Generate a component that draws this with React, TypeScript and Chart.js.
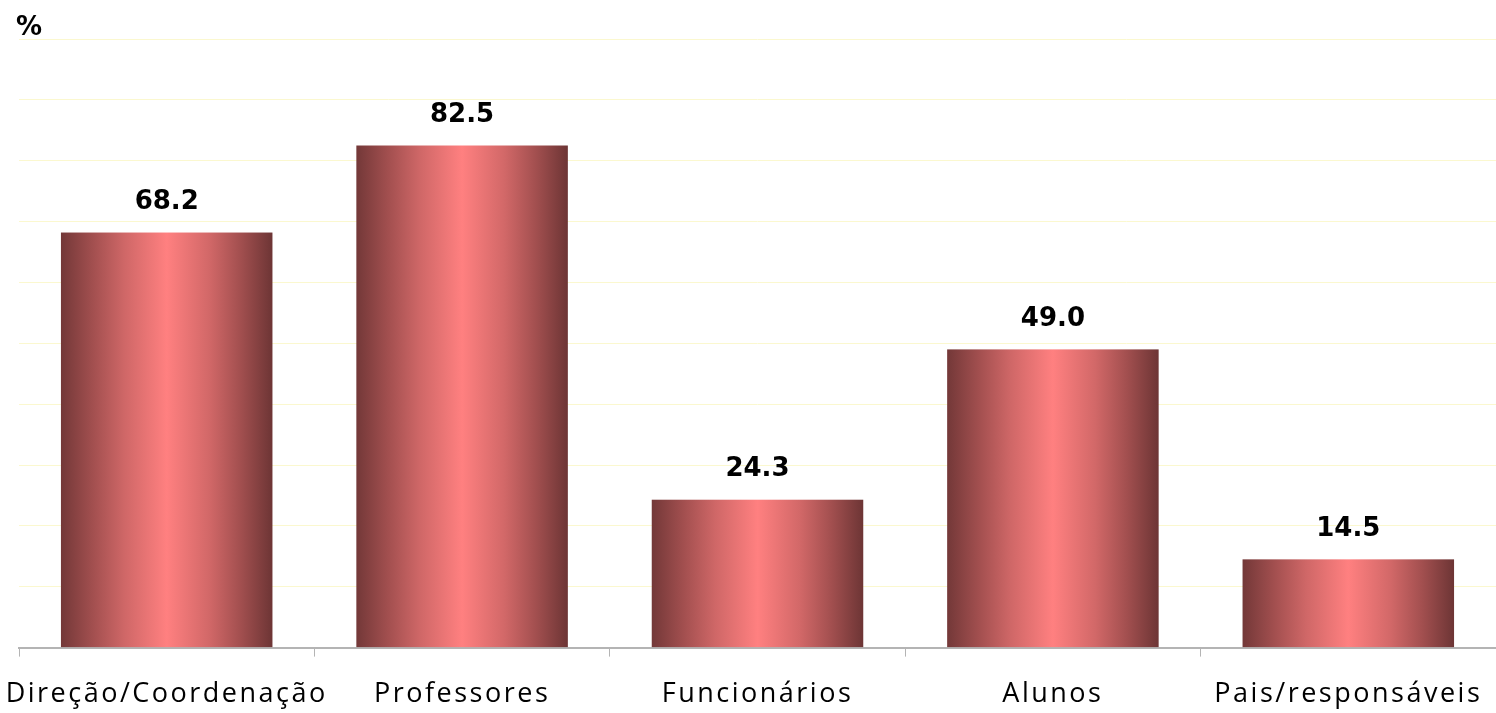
import React, { useEffect, useRef } from "react";
import { Chart, registerables } from "chart.js";

Chart.register(...registerables);

const categories = ["Direção/Coordenação", "Professores", "Funcionários", "Alunos", "Pais/responsáveis"];
const values = [68.2, 82.5, 24.3, 49.0, 14.5];
const yMax = 100;
const yStep = 10;
const unitLabel = "%";

const gradientPlugin = {
  id: "gradBars",
  beforeDraw(chart: any) {
    chart.ctx.letterSpacing = "2.5px";
  },
  beforeDatasetsDraw(chart: any) {
    chart.ctx.letterSpacing = "0px";
  },
  afterDatasetsDraw(chart: any) {
    const ctx = chart.ctx;
    const meta = chart.getDatasetMeta(0);
    ctx.save();
    ctx.letterSpacing = "0px";
    meta.data.forEach((el: any) => {
      const { x, y, base, width } = el.getProps(["x", "y", "base", "width"], true);
      const l = x - width / 2;
      const g = ctx.createLinearGradient(l, 0, l + width, 0);
      g.addColorStop(0, "#733838");
      g.addColorStop(0.15, "#a24f4f");
      g.addColorStop(0.3, "#cf6767");
      g.addColorStop(0.5, "#ff8080");
      g.addColorStop(0.7, "#d26868");
      g.addColorStop(0.85, "#a24f4f");
      g.addColorStop(1, "#6d3535");
      ctx.fillStyle = g;
      ctx.fillRect(l, y, width, base - y);
    });
    ctx.fillStyle = "#000";
    ctx.font = "bold 26px 'DejaVu Sans'";
    ctx.textAlign = "center";
    ctx.textBaseline = "middle";
    meta.data.forEach((el: any, i: number) => {
      const { x, y } = el.getProps(["x", "y"], true);
      ctx.fillText(values[i].toFixed(1), x, y - 30);
    });
    ctx.textAlign = "left";
    ctx.textBaseline = "alphabetic";
    ctx.font = "bold 26px 'DejaVu Sans'";
    ctx.fillText(unitLabel, 16, 35);
    ctx.restore();
  },
};

export default function App() {
  const ref = useRef<HTMLCanvasElement | null>(null);
  useEffect(() => {
    if (!ref.current) return;
    const chart = new Chart(ref.current, {
      type: "bar",
      data: {
        labels: categories,
        datasets: [
          {
            data: values,
            backgroundColor: "rgba(0,0,0,0)",
            borderWidth: 0,
            categoryPercentage: 1,
            barPercentage: 0.716,
          },
        ],
      },
      options: {
        animation: false,
        responsive: true,
        maintainAspectRatio: false,
        layout: { padding: { left: 19, right: 0, top: 39, bottom: -20 } },
        plugins: { legend: { display: false }, tooltip: { enabled: false }, title: { display: false } },
        scales: {
          x: {
            offset: true,
            grid: { display: true, drawOnChartArea: false, drawTicks: true, tickLength: 9, color: "#b4b4b4", offset: true },
            border: { display: true, color: "#b4b4b4", width: 2 },
            ticks: {
              color: "#000",
              font: { family: "'Open Sans'", size: 27 },
              padding: 22,
              maxRotation: 0,
              autoSkip: false,
            },
          },
          y: {
            min: 0,
            max: yMax,
            ticks: { display: false, stepSize: yStep },
            grid: { color: "#fbf8cf", drawTicks: false, lineWidth: 1 },
            border: { display: false },
          },
        },
      },
      plugins: [gradientPlugin],
    });
    return () => chart.destroy();
  }, []);
  return (
    <div style={{ position: "fixed", left: 0, top: 0, width: 1496, height: 713, background: "#fff" }}>
      <canvas ref={ref} />
    </div>
  );
}
